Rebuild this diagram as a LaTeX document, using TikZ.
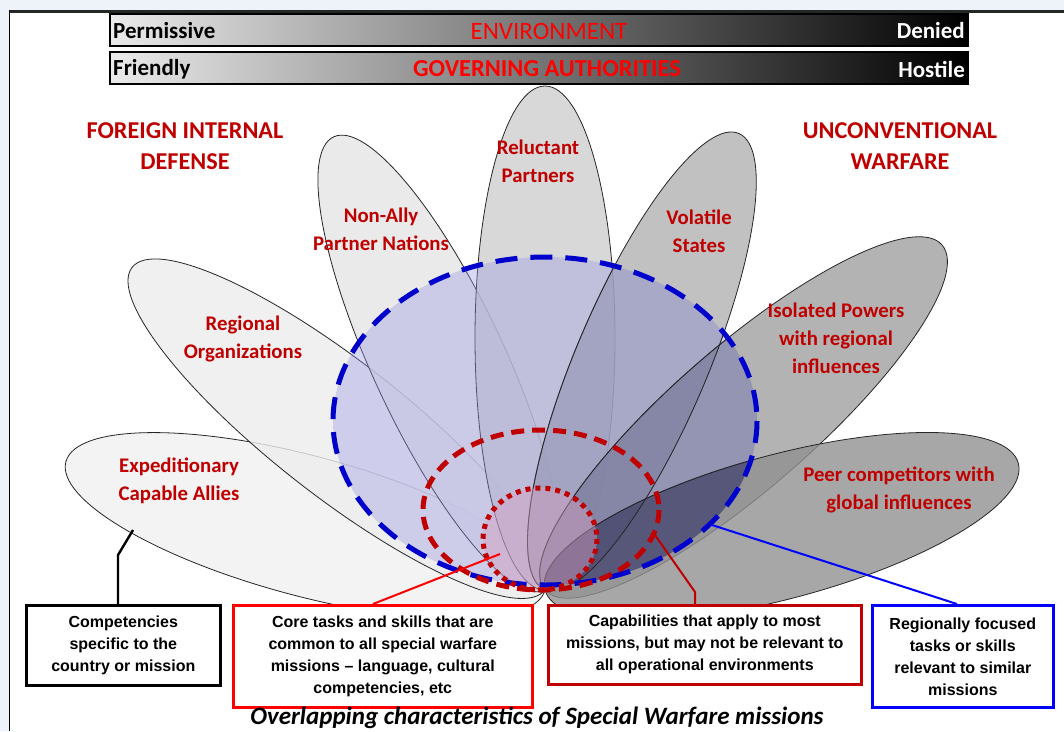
\documentclass[tikz,border=0pt]{standalone}
\usepackage{fontspec}
\setmainfont{Carlito}
\newfontfamily\arialfont{Liberation Sans}
\usetikzlibrary{calc}
\definecolor{dred}{HTML}{C00000}
\definecolor{brred}{HTML}{FF0000}
\definecolor{panelbg}{HTML}{EEF3F9}
\definecolor{dblue}{HTML}{0000CC}
\definecolor{bluefill}{HTML}{9999E6}
\definecolor{pinkfill}{HTML}{D9A0C0}
\definecolor{shadeblue}{HTML}{202048}
\begin{document}
\begin{tikzpicture}[x=1pt,y=-1pt,
  petal/.style={draw=black!85, line width=0.8pt, fill opacity=0.8},
  lbl/.style={text=dred, font=\bfseries\fontsize{20.8}{28}\selectfont, align=center, inner sep=0pt},
  head/.style={text=dred, font=\bfseries\fontsize{24.2}{31}\selectfont, align=center, inner sep=0pt},
  bartext/.style={font=\bfseries\fontsize{23}{26}\selectfont, inner sep=0pt},
  infobox/.style={draw, line width=2.6pt, fill=white, text=black,
    font=\arialfont\bfseries\fontsize{16}{22}\selectfont, align=center,
    inner sep=0pt, anchor=north west},
  conn/.style={line width=2.4pt}
]
\useasboundingbox (0,0) rectangle (1064,731);
% background and panel
\fill[panelbg] (0,0) rectangle (1064,731);
\fill[white] (9,11) rectangle (1064,731);
\draw[black!85, line width=3pt] (9,11.5) -- (1064,11.5);
\draw[black, line width=1.5pt] (9.5,10) -- (9.5,731);

% top bars
\shade[left color=black!8, right color=black] (110,14) rectangle (968,46);
\draw[black, line width=1.5pt] (110,14) rectangle (968,46);
\shade[left color=black!8, right color=black] (110,52) rectangle (968,84);
\draw[black, line width=1.5pt] (110,52) rectangle (968,84);
\node[bartext, anchor=west, text=black] (perm) at (113,31) {Permissive};
\node[font=\fontsize{25}{26}\selectfont, inner sep=0pt, text=brred] (env) at (549,31) {ENVIRONMENT};
\node[bartext, anchor=east, text=white] (deny) at (965,31) {Denied};
\node[bartext, anchor=west, text=black] (frnd) at (113,69) {Friendly};
\node[font=\bfseries\fontsize{24.4}{26}\selectfont, inner sep=0pt, text=brred] (gov) at (547,69) {GOVERNING AUTHORITIES};
\node[bartext, anchor=east, text=white] (host) at (965,69) {Hostile};

% petals
\coordinate (hub) at (545,590);
\foreach \ang/\a/\b/\col in {165/248/70/6, 142/262/67/7, 115/250/66/10, 90/252/70/19, 67/248/66/30, 41/263/71/37, 15/245/72/43}{
  \draw[petal, fill=black!\col, rotate around={\ang:(hub)}] ($(hub)+(\a,0)$) ellipse [x radius=\a, y radius=\b];
}

% inner regions
\fill[bluefill, opacity=0.38] (545,421) ellipse [x radius=212, y radius=164];
\begin{scope}
  \clip (545,421) ellipse [x radius=212, y radius=164];
  \fill[shadeblue, opacity=0.45, rotate around={15:(hub)}] ($(hub)+(245,0)$) ellipse [x radius=245, y radius=72];
  \fill[shadeblue, opacity=0.15, rotate around={41:(hub)}] ($(hub)+(263,0)$) ellipse [x radius=263, y radius=71];
  \fill[shadeblue, opacity=0.06, rotate around={67:(hub)}] ($(hub)+(248,0)$) ellipse [x radius=248, y radius=66];
  \foreach \ang/\a/\b in {15/245/72, 41/263/71, 67/248/66}{
    \draw[black!85, line width=0.8pt, rotate around={\ang:(hub)}] ($(hub)+(\a,0)$) ellipse [x radius=\a, y radius=\b];
  }
\end{scope}
\fill[pinkfill, opacity=0.45] (540,539) ellipse [x radius=57, y radius=51];
\draw[dblue, line width=5pt, dash pattern=on 22pt off 13pt] (545,421) ellipse [x radius=212, y radius=164];
\draw[dred, line width=5pt, dash pattern=on 13pt off 8pt] (541,510) ellipse [x radius=118, y radius=80];
\draw[dred, line width=5pt, dash pattern=on 5pt off 5pt] (540,539) ellipse [x radius=57, y radius=51];

% headings
\node[head] (fid) at (185,146) {FOREIGN INTERNAL\\DEFENSE};
\node[head] (uw) at (900,146) {UNCONVENTIONAL\\WARFARE};

% petal labels
\node[lbl] (l1) at (179,481) {Expeditionary\\Capable Allies};
\node[lbl] (l2) at (243,339) {Regional\\Organizations};
\node[lbl] (l3) at (381,229) {Non-Ally\\Partner Nations};
\node[lbl] (l4) at (538,161) {Reluctant\\Partners};
\node[lbl] (l5) at (699,231) {Volatile\\States};
\node[lbl] (l6) at (836,338) {Isolated Powers\\with regional\\influences};
\node[lbl] (l7) at (899,490) {Peer competitors with\\global influences};

% boxes
\node[infobox, minimum width=194, minimum height=80] (b1) at (25,604) {Competencies\\specific to the\\country or mission};
\node[infobox, draw=brred, minimum width=299, minimum height=102] (b2) at (232,604) {Core tasks and skills that are\\common to all special warfare\\missions – language, cultural\\competencies, etc};
\node[infobox, draw=dred, minimum width=313, minimum height=79] (b3) at (547,604) {Capabilities that apply to most\\missions, but may not be relevant to\\all operational environments};
\node[infobox, draw=blue, minimum width=181, minimum height=102] (b4) at (871,604) {Regionally focused\\tasks or skills\\relevant to similar\\missions};

% connectors
\coordinate (c1) at (133,530);
\coordinate (k1) at (118,555);
\draw[conn, black] (c1) -- (k1) -- (k1 |- b1.north);
\coordinate (c2) at (500,554);
\draw[conn, brred, line width=2pt] (c2) -- ($(b2.north west)+(141,0)$);
\coordinate (c3) at (655,535);
\coordinate (k3) at (695,592);
\draw[conn, dred, line width=2pt] (c3) -- (k3) -- (k3 |- b3.north);
\coordinate (c4) at (712,525);
\draw[conn, blue, line width=2pt] (c4) -- ($(b4.north west)+(86,0)$);

% caption
\node[font=\bfseries\itshape\fontsize{25}{28}\selectfont, inner sep=0pt] (cap) at (537,718) {Overlapping characteristics of Special Warfare missions};
\end{tikzpicture}
\end{document}
